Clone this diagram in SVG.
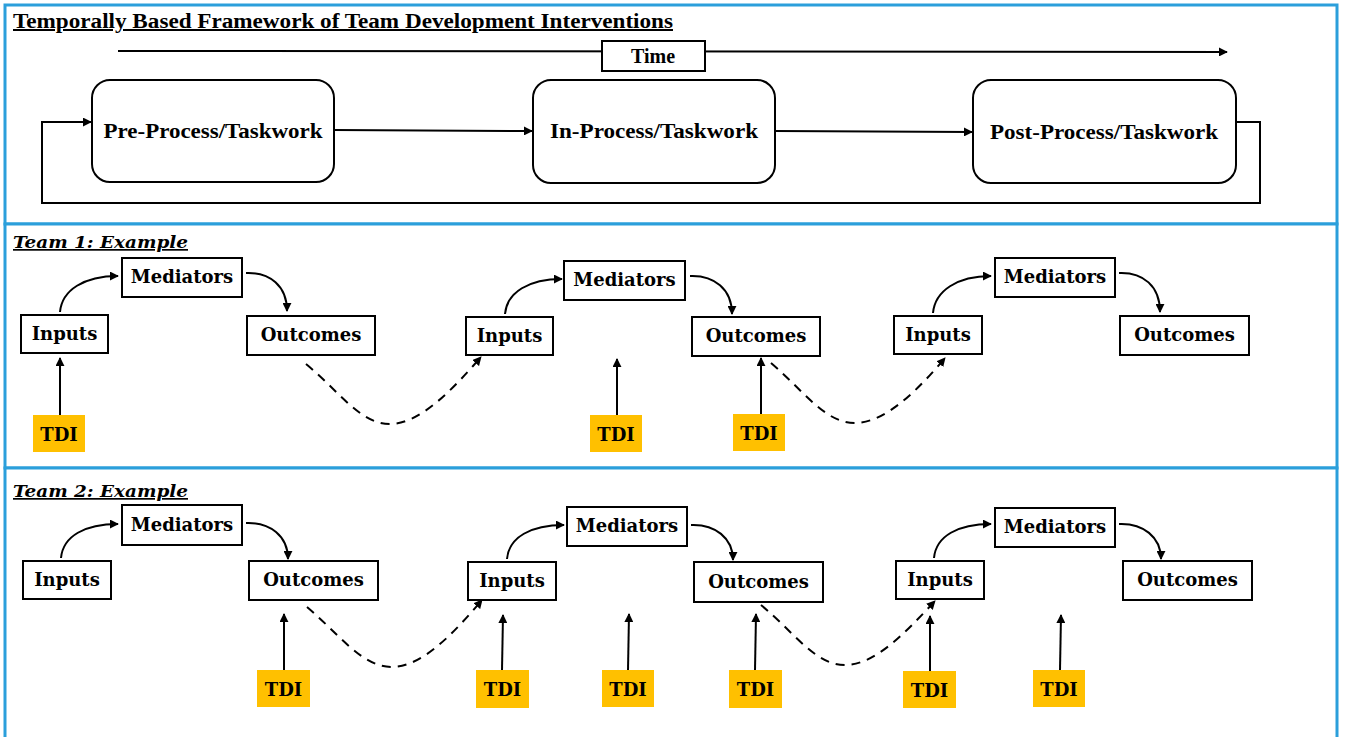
<svg xmlns="http://www.w3.org/2000/svg" width="1345" height="737" viewBox="0 0 1345 737">
<style>
.panel{fill:#fff;stroke:#2b9fdb;stroke-width:3}
.rbox{fill:#fff;stroke:#000;stroke-width:2}
.box{fill:#fff;stroke:#000;stroke-width:2}
.tdi{fill:#ffc000}
.line{fill:none;stroke:#000;stroke-width:2}
.dash{fill:none;stroke:#000;stroke-width:2;stroke-dasharray:9,7}
.big{font-family:"Liberation Serif",serif;font-weight:bold;font-size:20px;fill:#000}
.lbl{font-family:"DejaVu Serif",serif;font-weight:bold;font-size:18px;fill:#000;text-anchor:middle}
.ttl{font-family:"DejaVu Serif",serif;font-weight:bold;font-style:italic;font-size:17px;fill:#000;text-decoration:underline}
</style>
<defs>
<marker id="ah" viewBox="0 0 10 10" refX="9" refY="5" markerWidth="9" markerHeight="9" markerUnits="userSpaceOnUse" orient="auto">
<path d="M0,0 L10,5 L0,10 z" fill="#000"/>
</marker>
</defs>
<rect x="0" y="0" width="1345" height="737" fill="#fff"/>
<g id="panels">
<rect class="panel" x="5" y="5" width="1332" height="219"/>
<rect class="panel" x="5" y="224" width="1332" height="244"/>
<rect class="panel" x="5" y="468" width="1332" height="275"/>
</g>
<text class="big" x="13" y="28" textLength="660" lengthAdjust="spacingAndGlyphs" text-decoration="underline">Temporally Based Framework of Team Development Interventions</text>
<g id="connectors">
<path class="line" d="M118,51 L1227,52" marker-end="url(#ah)"/>
<path class="line" d="M334,130 L532,131" marker-end="url(#ah)"/>
<path class="line" d="M775,131 L972,132" marker-end="url(#ah)"/>
<path class="line" d="M1236,122 L1260,122 L1260,203 L42,203 L42,122 L91,122" marker-end="url(#ah)"/>
<path class="line" d="M60,312 C62,290 84,276 118,276" marker-end="url(#ah)"/>
<path class="line" d="M246,273 C270,272 287,286 287,311" marker-end="url(#ah)"/>
<path class="line" d="M60,415 L60,358" marker-end="url(#ah)"/>
<path class="dash" d="M306,364 C340,392 360,424 390,424 C420,424 452,390 481,357" marker-end="url(#ah)"/>
<path class="line" d="M505,314 C507,292 529,279 562,279" marker-end="url(#ah)"/>
<path class="line" d="M690,276 C714,275 732,289 732,314" marker-end="url(#ah)"/>
<path class="line" d="M617,415 L617,359" marker-end="url(#ah)"/>
<path class="line" d="M761,414 L761,358" marker-end="url(#ah)"/>
<path class="dash" d="M771,363 C805,392 825,423 855,423 C885,423 918,390 945,358" marker-end="url(#ah)"/>
<path class="line" d="M933,313 C935,291 957,276 991,276" marker-end="url(#ah)"/>
<path class="line" d="M1119,273 C1143,272 1160,286 1160,312" marker-end="url(#ah)"/>
<path class="line" d="M61,558 C63,536 85,524 118,524" marker-end="url(#ah)"/>
<path class="line" d="M246,523 C270,522 288,536 288,559" marker-end="url(#ah)"/>
<path class="line" d="M284,670 L284,614" marker-end="url(#ah)"/>
<path class="dash" d="M307,607 C340,635 362,667 392,667 C422,667 454,633 482,600" marker-end="url(#ah)"/>
<path class="line" d="M507,559 C509,537 531,525 564,525" marker-end="url(#ah)"/>
<path class="line" d="M691,525 C715,524 733,538 733,560" marker-end="url(#ah)"/>
<path class="line" d="M502,670 L503,615" marker-end="url(#ah)"/>
<path class="line" d="M628,670 L629,614" marker-end="url(#ah)"/>
<path class="line" d="M755,670 L756,614" marker-end="url(#ah)"/>
<path class="dash" d="M761,605 C795,633 815,665 845,665 C875,665 905,633 935,601" marker-end="url(#ah)"/>
<path class="line" d="M934,558 C936,536 958,524 991,524" marker-end="url(#ah)"/>
<path class="line" d="M1119,524 C1143,523 1161,537 1161,559" marker-end="url(#ah)"/>
<path class="line" d="M930,671 L930,616" marker-end="url(#ah)"/>
<path class="line" d="M1060,670 L1061,615" marker-end="url(#ah)"/>
</g>
<g id="time"><rect class="box" x="602" y="41" width="103" height="30"/><text class="big" x="653" y="63" text-anchor="middle" font-size="20">Time</text></g>
<g id="pre"><rect class="rbox" x="92" y="80" width="242" height="102" rx="18"/><text class="big" x="213" y="138" text-anchor="middle" font-size="21" textLength="219" lengthAdjust="spacingAndGlyphs">Pre-Process/Taskwork</text></g>
<g id="in"><rect class="rbox" x="533" y="80" width="242" height="103" rx="18"/><text class="big" x="654" y="138" text-anchor="middle" font-size="21" textLength="208" lengthAdjust="spacingAndGlyphs">In-Process/Taskwork</text></g>
<g id="post"><rect class="rbox" x="973" y="80" width="263" height="103" rx="18"/><text class="big" x="1104" y="139" text-anchor="middle" font-size="21" textLength="228" lengthAdjust="spacingAndGlyphs">Post-Process/Taskwork</text></g>
<text class="ttl" x="13" y="248" textLength="175" lengthAdjust="spacingAndGlyphs">Team 1: Example</text>
<text class="ttl" x="13" y="497" textLength="175" lengthAdjust="spacingAndGlyphs">Team 2: Example</text>
<g id="t1-in1"><rect class="box" x="21" y="315" width="87" height="38"/><text class="lbl" x="64.5" y="340">Inputs</text></g>
<g id="t1-med1"><rect class="box" x="122" y="258" width="120" height="39"/><text class="lbl" x="182" y="283">Mediators</text></g>
<g id="t1-out1"><rect class="box" x="247" y="316" width="128" height="39"/><text class="lbl" x="311" y="341">Outcomes</text></g>
<g id="t1-tdi1"><rect class="tdi" x="33" y="415" width="52" height="37"/><text class="lbl" x="59" y="441">TDI</text></g>
<g id="t1-in2"><rect class="box" x="466" y="317" width="87" height="38"/><text class="lbl" x="509.5" y="342">Inputs</text></g>
<g id="t1-med2"><rect class="box" x="564" y="261" width="121" height="39"/><text class="lbl" x="624.5" y="286">Mediators</text></g>
<g id="t1-out2"><rect class="box" x="692" y="317" width="128" height="39"/><text class="lbl" x="756" y="342">Outcomes</text></g>
<g id="t1-tdi2"><rect class="tdi" x="590" y="415" width="52" height="37"/><text class="lbl" x="616" y="441">TDI</text></g>
<g id="t1-tdi3"><rect class="tdi" x="733" y="414" width="52" height="37"/><text class="lbl" x="759" y="440">TDI</text></g>
<g id="t1-in3"><rect class="box" x="894" y="316" width="88" height="38"/><text class="lbl" x="938" y="341">Inputs</text></g>
<g id="t1-med3"><rect class="box" x="995" y="258" width="120" height="39"/><text class="lbl" x="1055" y="283">Mediators</text></g>
<g id="t1-out3"><rect class="box" x="1120" y="316" width="129" height="39"/><text class="lbl" x="1184.5" y="341">Outcomes</text></g>
<g id="t2-in1"><rect class="box" x="23" y="561" width="88" height="38"/><text class="lbl" x="67" y="586">Inputs</text></g>
<g id="t2-med1"><rect class="box" x="122" y="505" width="120" height="40"/><text class="lbl" x="182" y="531">Mediators</text></g>
<g id="t2-out1"><rect class="box" x="249" y="561" width="129" height="39"/><text class="lbl" x="313.5" y="586">Outcomes</text></g>
<g id="t2-tdi1"><rect class="tdi" x="257" y="670" width="53" height="37"/><text class="lbl" x="283.5" y="696">TDI</text></g>
<g id="t2-in2"><rect class="box" x="468" y="562" width="88" height="38"/><text class="lbl" x="512" y="587">Inputs</text></g>
<g id="t2-med2"><rect class="box" x="567" y="507" width="120" height="39"/><text class="lbl" x="627" y="532">Mediators</text></g>
<g id="t2-out2"><rect class="box" x="694" y="562" width="129" height="40"/><text class="lbl" x="758.5" y="588">Outcomes</text></g>
<g id="t2-tdi2"><rect class="tdi" x="476" y="670" width="53" height="38"/><text class="lbl" x="502.5" y="696">TDI</text></g>
<g id="t2-tdi3"><rect class="tdi" x="602" y="670" width="52" height="37"/><text class="lbl" x="628" y="696">TDI</text></g>
<g id="t2-tdi4"><rect class="tdi" x="729" y="670" width="53" height="38"/><text class="lbl" x="755.5" y="696">TDI</text></g>
<g id="t2-in3"><rect class="box" x="896" y="561" width="88" height="38"/><text class="lbl" x="940" y="586">Inputs</text></g>
<g id="t2-med3"><rect class="box" x="995" y="508" width="120" height="39"/><text class="lbl" x="1055" y="533">Mediators</text></g>
<g id="t2-out3"><rect class="box" x="1123" y="561" width="129" height="39"/><text class="lbl" x="1187.5" y="586">Outcomes</text></g>
<g id="t2-tdi5"><rect class="tdi" x="903" y="671" width="53" height="37"/><text class="lbl" x="929.5" y="697">TDI</text></g>
<g id="t2-tdi6"><rect class="tdi" x="1033" y="670" width="52" height="37"/><text class="lbl" x="1059" y="696">TDI</text></g>
</svg>
